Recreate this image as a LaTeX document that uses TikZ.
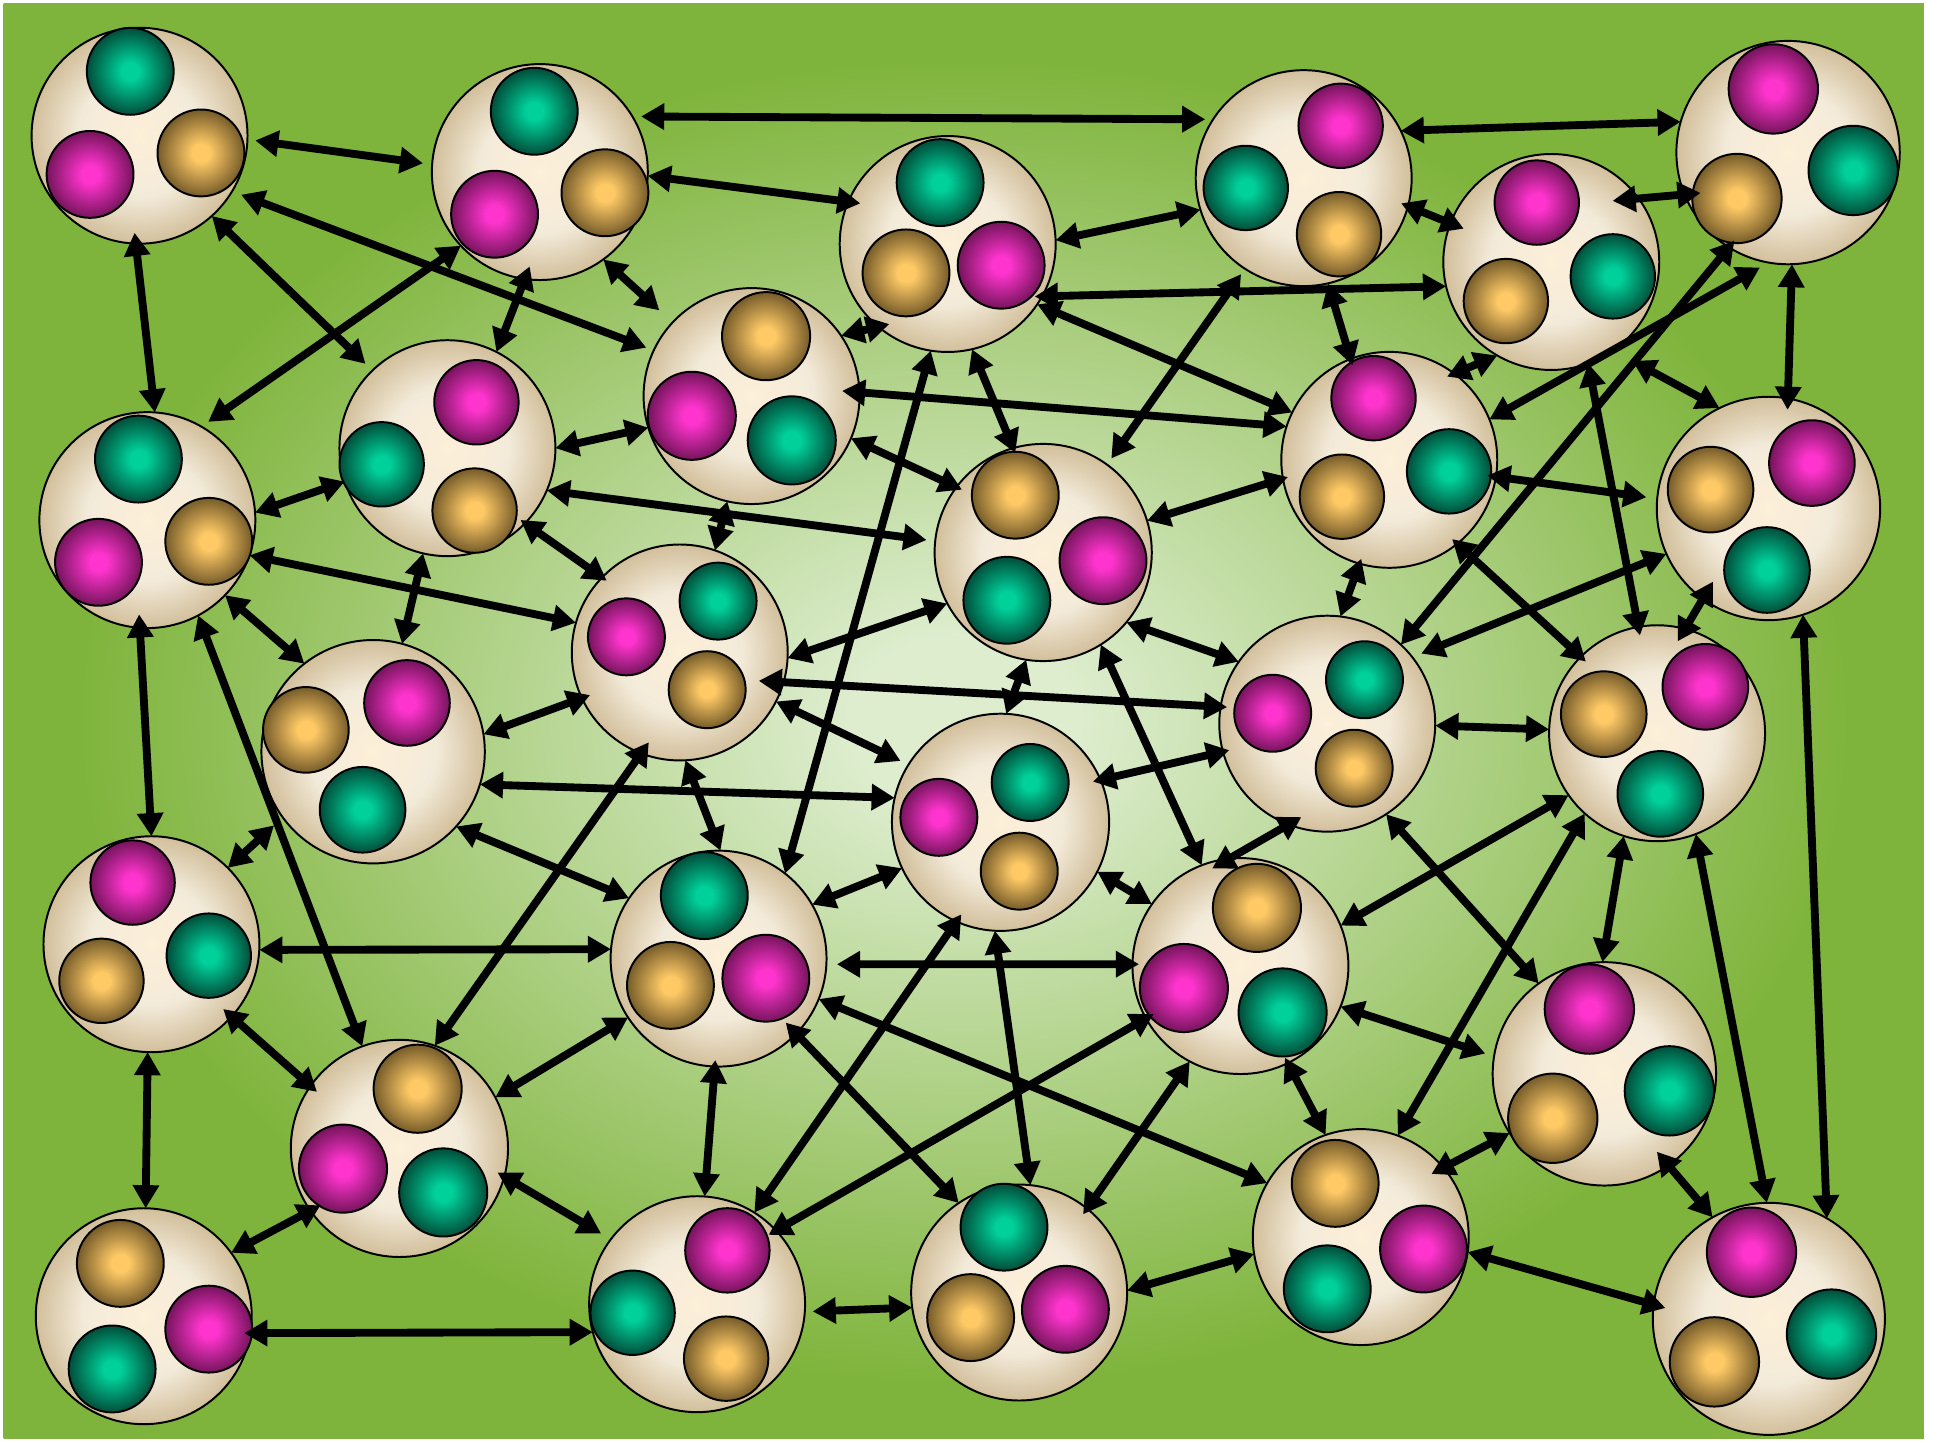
\documentclass[tikz,border=0pt]{standalone}
\usetikzlibrary{arrows.meta}
\definecolor{bgout}{RGB}{127,180,60}
\definecolor{bgin}{RGB}{221,237,206}
\definecolor{bigin}{RGB}{253,239,216}
\definecolor{bigmid}{RGB}{243,235,218}
\definecolor{bigout}{RGB}{210,191,155}
\definecolor{tealc}{RGB}{0,208,154}
\definecolor{teale}{RGB}{0,78,58}
\definecolor{magc}{RGB}{255,52,206}
\definecolor{mage}{RGB}{118,20,92}
\definecolor{goldc}{RGB}{255,202,102}
\definecolor{golde}{RGB}{118,92,42}
\pgfdeclareradialshading{bgsh}{\pgfpoint{0bp}{0bp}}{color(0bp)=(bgin); color(3bp)=(bgin); color(23bp)=(bgout); color(50bp)=(bgout)}
\pgfdeclareradialshading{bigsh}{\pgfpoint{0bp}{0bp}}{color(0bp)=(bigin); color(14bp)=(bigmid); color(25bp)=(bigout); color(30bp)=(bigout)}
\pgfdeclareradialshading{tealsh}{\pgfpoint{0bp}{0bp}}{color(0bp)=(tealc); color(5bp)=(tealc); color(25bp)=(teale); color(30bp)=(teale)}
\pgfdeclareradialshading{magsh}{\pgfpoint{0bp}{0bp}}{color(0bp)=(magc); color(5bp)=(magc); color(25bp)=(mage); color(30bp)=(mage)}
\pgfdeclareradialshading{goldsh}{\pgfpoint{0bp}{0bp}}{color(0bp)=(goldc); color(5bp)=(goldc); color(25bp)=(golde); color(30bp)=(golde)}
\tikzset{
  bignode/.style={circle, draw=black, line width=0.45pt, shade, shading=bigsh, inner sep=0pt, outer sep=0pt},
  ballbase/.style={circle, draw=black, line width=0.45pt, shade, inner sep=0pt, outer sep=0pt},
  tealball/.style={ballbase, shading=tealsh},
  magball/.style={ballbase, shading=magsh},
  goldball/.style={ballbase, shading=goldsh},
  arr/.style={<->, >={Triangle[length=5.3pt,width=5.8pt]}, line width=1.8pt, black}
}
\newcommand\mkcell[8]{%
  \node[bignode, minimum size=#4cm] (#1) at (#2,#3) {};
  \node[tealball, minimum size=#5cm] (#1t) at #6 {};
  \node[magball, minimum size=#5cm] (#1m) at #7 {};
  \node[goldball, minimum size=#5cm] (#1g) at #8 {};
}
\begin{document}
\begin{tikzpicture}[x=0.01cm, y=-0.01cm]
\useasboundingbox (0,0) rectangle (1568,1163);
\fill[white] (0,0) rectangle (1568,1163);
\shade[shading=bgsh] (3,3) rectangle (1551,1160);

\mkcell{n1}{112.5}{109.4}{1.74}{0.70}{(105,57.5)}{(72.6,140.6)}{(162,123.3)}
\mkcell{n2}{435.2}{138.7}{1.74}{0.70}{(430.7,89.7)}{(398.7,172.7)}{(487.7,155.4)}
\mkcell{n3}{764}{196.7}{1.74}{0.70}{(757.9,147.2)}{(807.1,213.8)}{(730.4,220)}
\mkcell{n4}{1051}{143.6}{1.74}{0.68}{(1004.3,151.5)}{(1080.8,101.4)}{(1079.5,188.8)}
\mkcell{n5}{1441.5}{123}{1.80}{0.72}{(1494,137.4)}{(1429.6,71.7)}{(1400.3,160)}
\mkcell{n6}{1250.6}{211.2}{1.74}{0.68}{(1300.2,222.8)}{(1238.9,163.3)}{(1214,242.7)}
\mkcell{n7}{605.9}{319.3}{1.74}{0.71}{(638.3,355)}{(557.7,335.2)}{(617.6,271)}
\mkcell{n8}{360.7}{361.3}{1.74}{0.68}{(307.7,374.3)}{(384.1,324.3)}{(382.6,411.6)}
\mkcell{n9}{118.8}{419.3}{1.74}{0.70}{(111.6,370.1)}{(79.4,453.3)}{(168.3,436.4)}
\mkcell{n10}{841}{445.4}{1.75}{0.70}{(811.7,483.9)}{(889.2,452)}{(818.5,399.2)}
\mkcell{n11}{1120}{370.7}{1.74}{0.68}{(1168.2,380)}{(1107.3,321)}{(1081.8,400.4)}
\mkcell{n12}{1425.7}{409.9}{1.80}{0.69}{(1424.5,459.5)}{(1460.7,373.3)}{(1379,394.7)}
\mkcell{n13}{548}{526}{1.74}{0.62}{(578.9,484.6)}{(505,513.4)}{(570.1,556)}
\mkcell{n14}{300.8}{606}{1.80}{0.69}{(292.3,652.8)}{(328.1,566.7)}{(246.6,588.4)}
\mkcell{n15}{1070}{583.4}{1.74}{0.62}{(1100,548)}{(1026,575)}{(1091.7,619.3)}
\mkcell{n16}{1335.9}{591.1}{1.74}{0.69}{(1338.5,640)}{(1374.8,553.7)}{(1292.9,575.7)}
\mkcell{n17}{806.6}{662.9}{1.75}{0.62}{(830.5,630.8)}{(756.9,658.9)}{(821.7,702.3)}
\mkcell{n18}{122.1}{761.2}{1.74}{0.68}{(168.3,770.4)}{(106.9,711.5)}{(81.8,790.7)}
\mkcell{n19}{579.3}{772.8}{1.74}{0.70}{(567.8,722)}{(617.4,788.6)}{(540.5,794.4)}
\mkcell{n20}{1000}{778.8}{1.74}{0.71}{(1034,816.2)}{(954.4,796.5)}{(1013.3,731.9)}
\mkcell{n21}{322}{925.8}{1.75}{0.71}{(357.3,961.3)}{(276.5,942.1)}{(336.7,877.7)}
\mkcell{n22}{1293.4}{865.7}{1.80}{0.72}{(1345.8,879.4)}{(1281.3,813.5)}{(1251.8,901.5)}
\mkcell{n23}{115.9}{1061.1}{1.74}{0.70}{(90.4,1103.6)}{(168.3,1071.5)}{(97,1018.5)}
\mkcell{n24}{562}{1051.4}{1.74}{0.68}{(510,1058.3)}{(586.4,1008)}{(585.4,1095.3)}
\mkcell{n25}{821.6}{1042}{1.74}{0.70}{(809.4,989.3)}{(858.9,1055.5)}{(782.5,1062.2)}
\mkcell{n26}{1097}{997.3}{1.74}{0.70}{(1070,1039)}{(1147.6,1006.9)}{(1076.4,954)}
\mkcell{n27}{1426}{1063.2}{1.87}{0.72}{(1476.5,1075.5)}{(1412,1009.5)}{(1382.1,1097.9)}

\draw[arr, shorten <=1.8pt, shorten >=2.1pt] (n1.-2) -- (n2.176);
\draw[arr, shorten <=2.2pt, shorten >=1.8pt] (n1.-31) -- (n7.155);
\draw[arr, shorten >=2.2pt] (n1.-48) -- (n8.134);
\draw[arr, shorten <=-2.5pt] (n1.-92) -- (n9.86);
\draw[arr, shorten >=1.9pt] (n2.-137) -- (n9.60);
\draw[arr, shorten <=-3.1pt] (n2.-98) -- (n8.63);
\draw[arr, shorten >=4.1pt] (n2.-54) -- (n7.137);
\draw[arr] (n9.4) -- (n8.-162);
\draw[arr] (n8.0) -- (n7.-163);
\draw[arr, shorten >=2pt] (n8.-23) -- (n10.174);
\draw[arr, shorten <=-1.3pt, shorten >=-1.3pt] (n8.-44) -- (n13.136);
\draw[arr] (n8.-103) -- (n14.75);
\draw[arr] (n9.-19) -- (n13.164);
\draw[arr] (n9.-44) -- (n14.128);
\draw[arr, shorten <=-3.1pt] (n9.-94) -- (n18.90);
\draw[arr] (n9.-62) -- (n21.110);
\draw[arr, shorten <=2pt, shorten >=1.8pt] (n2.31) -- (n4.147);
\draw[arr, shorten >=-2.8pt] (n2.-2) -- (n3.157);
\draw[arr] (n3.2) -- (n4.-163);
\draw[arr, shorten <=-1.7pt] (n3.-29) -- (n6.-167);
\draw[arr, shorten <=-2.6pt] (n3.-130) -- (n7.34);
\draw[arr, shorten >=-1.2pt] (n3.-77) -- (n10.106);
\draw[arr] (n3.-34) -- (n11.154);
\draw[arr] (n3.-99) -- (n19.52);
\draw[arr, shorten <=1.5pt, shorten >=1.7pt] (n4.-123) -- (n10.54);
\draw[arr, shorten <=-4pt] (n7.2) -- (n11.162);
\draw[arr, shorten >=-1.4pt] (n7.-23) -- (n10.143);
\draw[arr] (n7.-103) -- (n13.71);
\draw[arr, shorten >=-1.2pt] (n10.17) -- (n11.-170);
\draw[arr] (n10.-152) -- (n13.-3);
\draw[arr] (n10.-99) -- (n17.87);
\draw[arr, shorten <=-5.7pt, shorten >=-1.5pt] (n13.-16) -- (n15.171);
\draw[arr] (n10.-40) -- (n15.145);
\draw[arr] (n10.-58) -- (n20.111);
\draw[arr, shorten >=-1.5pt] (n4.-77) -- (n11.111);
\draw[arr] (n4.26) -- (n5.164);
\draw[arr, shorten <=-1.7pt, shorten >=-3.3pt] (n4.-15) -- (n6.159);
\draw[arr, shorten <=-6pt, shorten >=-3.7pt] (n6.36) -- (n5.-158);
\draw[arr, shorten >=-2.6pt] (n5.-88) -- (n12.80);
\draw[arr, shorten <=2.3pt] (n5.-100) -- (n11.22);
\draw[arr, shorten <=-2pt] (n5.-122) -- (n15.47);
\draw[arr, shorten >=-1.8pt] (n6.-120) -- (n11.53);
\draw[arr, shorten <=5pt] (n6.-55) -- (n12.116);
\draw[arr, shorten >=-2pt] (n6.-70) -- (n16.100);
\draw[arr, shorten <=-2pt, shorten >=2.5pt] (n11.-9) -- (n12.175);
\draw[arr, shorten <=-1.6pt, shorten >=-1.6pt] (n11.-51) -- (n16.135);
\draw[arr, shorten <=-1.2pt] (n11.-106) -- (n15.83);
\draw[arr, shorten >=2.2pt] (n12.-156) -- (n15.38);
\draw[arr, shorten <=-4.6pt, shorten >=-3.3pt] (n12.-126) -- (n16.75);
\draw[arr] (n12.-72) -- (n27.60);
\draw[arr, shorten <=2.7pt] (n14.-144) -- (n18.45);
\draw[arr, shorten >=-2pt] (n14.9) -- (n13.-155);
\draw[arr] (n14.-17) -- (n17.167);
\draw[arr] (n14.-42) -- (n19.146);
\draw[arr, shorten <=-3.1pt] (n13.-111) -- (n21.71);
\draw[arr] (n18.-3) -- (n19.175);
\draw[arr, shorten <=-2.6pt, shorten >=-2pt] (n18.-42) -- (n21.145);
\draw[arr] (n18.-92) -- (n23.89);
\draw[arr, shorten <=-2.6pt] (n21.-145) -- (n23.36);
\draw[arr, shorten <=-1.4pt] (n23.-9) -- (n24.-165);
\draw[arr] (n19.-147) -- (n21.28);
\draw[arr, shorten <=-1.8pt, shorten >=2.6pt] (n21.-15) -- (n24.143);
\draw[arr] (n13.-87) -- (n19.89);
\draw[arr, shorten >=2pt] (n13.-27) -- (n17.148);
\draw[arr] (n17.-155) -- (n19.30);
\draw[arr] (n17.-27) -- (n20.145);
\draw[arr, shorten <=2.4pt, shorten >=-1.5pt] (n19.-3) -- (n20.179);
\draw[arr, shorten <=-2pt] (n17.-114) -- (n24.58);
\draw[arr] (n17.-93) -- (n25.84);
\draw[arr, shorten <=-2pt, shorten >=-2pt] (n20.-151) -- (n24.43);
\draw[arr, shorten <=-3.5pt] (n19.-44) -- (n25.124);
\draw[arr] (n19.-22) -- (n26.150);
\draw[arr, shorten <=-1.5pt] (n19.-92) -- (n24.86);
\draw[arr, shorten >=-1.6pt] (n20.-118) -- (n25.51);
\draw[arr, shorten <=1.8pt] (n24.-4) -- (n25.-172);
\draw[arr] (n25.1) -- (n26.-171);
\draw[arr, shorten <=-1.5pt, shorten >=-1.8pt] (n15.-165) -- (n17.23);
\draw[arr, shorten <=-3.4pt, shorten >=-4.5pt] (n15.-111) -- (n20.96);
\draw[arr] (n15.-1) -- (n16.178);
\draw[arr] (n16.-145) -- (n20.22);
\draw[arr] (n16.-132) -- (n26.70);
\draw[arr] (n15.-57) -- (n22.126);
\draw[arr] (n16.-108) -- (n22.91);
\draw[arr] (n16.-69) -- (n27.91);
\draw[arr, shorten >=2.1pt] (n20.-22) -- (n22.171);
\draw[arr, shorten <=-1.4pt] (n20.-64) -- (n26.109);
\draw[arr, shorten >=-3.1pt] (n22.-148) -- (n26.40);
\draw[arr, shorten <=-4.1pt] (n22.-55) -- (n27.119);
\draw[arr, shorten >=-2.8pt] (n26.-8) -- (n27.173);
\end{tikzpicture}
\end{document}
